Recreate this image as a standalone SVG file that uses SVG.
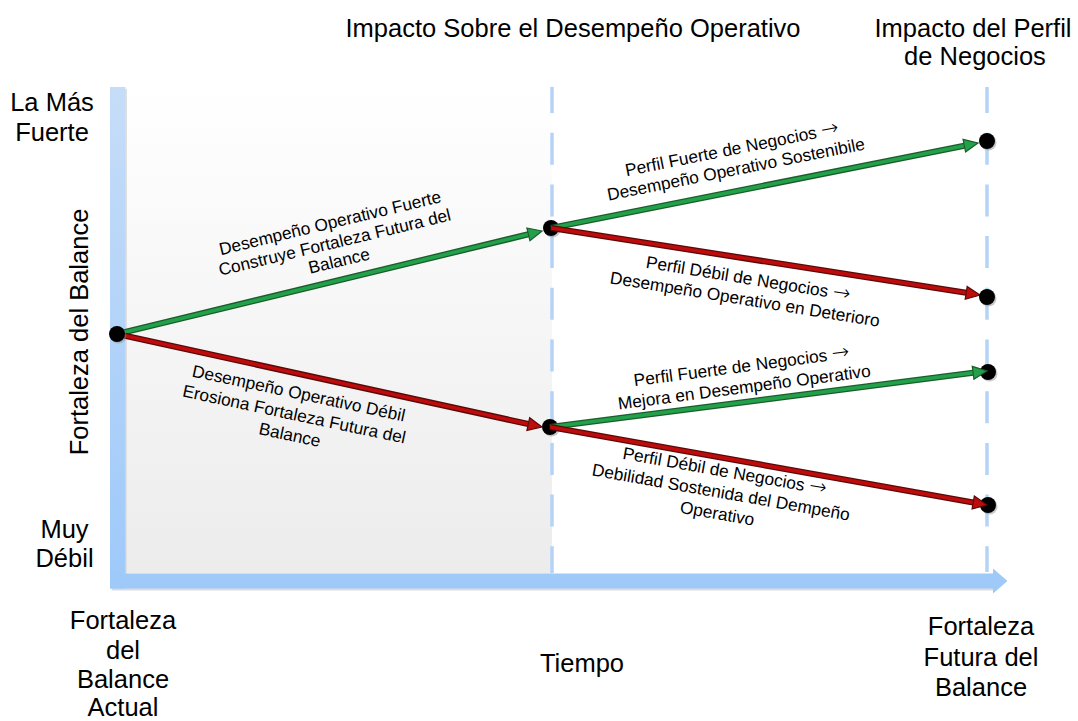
<svg xmlns="http://www.w3.org/2000/svg" width="1078" height="721" viewBox="0 0 1078 721">
<style>
.t{font-family:"Liberation Sans",Arial,sans-serif;font-size:25.5px;fill:#000}
.m{text-anchor:middle}
.s{font-family:"Liberation Sans",Arial,sans-serif;font-size:17.3px;fill:#000;text-anchor:middle}
.ar{font-family:"DejaVu Sans",sans-serif;font-size:21px;font-weight:200}
.dash{stroke:#b5d3f6;stroke-width:3.5;stroke-dasharray:32 19.7;fill:none}
.o{fill:none;stroke-width:6.2}
.i{fill:none;stroke-width:3.6}
.g .o{stroke:#1b5c2c}
.g .i{stroke:#22a14a}
.r .o{stroke:#5a0909}
.r .i{stroke:#be0c0c}
.node{fill:#000}
.sh{fill:#8a8a8a;opacity:.45}
</style>
<defs>
<linearGradient id="panel" x1="0" y1="0" x2="0" y2="1">
<stop offset="0" stop-color="#ffffff"/>
<stop offset="1" stop-color="#ececec"/>
</linearGradient>
<linearGradient id="vbar" x1="0" y1="0" x2="0" y2="1">
<stop offset="0" stop-color="#c6ddf8"/>
<stop offset="1" stop-color="#9ec9fa"/>
</linearGradient>
<marker id="mg" markerUnits="userSpaceOnUse" viewBox="-2 -9 20 18" markerWidth="20" markerHeight="18" refX="0" refY="0" orient="auto" overflow="visible">
<path d="M0,-6.5 L14,0 L0,6.5 Z" fill="#22a14a" stroke="#1b5c2c" stroke-width="1.2" stroke-linejoin="miter"/>
</marker>
<marker id="mr" markerUnits="userSpaceOnUse" viewBox="-2 -9 20 18" markerWidth="20" markerHeight="18" refX="0" refY="0" orient="auto" overflow="visible">
<path d="M0,-6.5 L14,0 L0,6.5 Z" fill="#be0c0c" stroke="#5a0909" stroke-width="1.2" stroke-linejoin="miter"/>
</marker>
</defs>

<rect width="1078" height="721" fill="#ffffff"/>

<g id="axes">
<rect x="125.5" y="87" width="426.5" height="486.5" fill="url(#panel)"/>
<rect x="112" y="89" width="15" height="501" fill="#e0e0e0"/>
<rect x="112" y="575.5" width="883" height="15" fill="#dcdcdc"/>
<rect x="110" y="87" width="15.5" height="501.5" fill="url(#vbar)"/>
<rect x="110" y="573.5" width="883" height="15" fill="#9fc9f9"/>
<path d="M993,568.5 L1007.5,581 L993,593.5 Z" fill="#9fc9f9"/>
<line class="dash" x1="552" y1="87" x2="552" y2="573" stroke-dashoffset="6"/>
<line class="dash" x1="987" y1="87" x2="987" y2="572" stroke-dashoffset="6"/>
</g>

<g id="labels">
<text class="t m" x="573" y="37">Impacto Sobre el Desempeño Operativo</text>
<text class="t m" x="973" y="37">Impacto del Perfil</text>
<text class="t m" x="975" y="65">de Negocios</text>
<text class="t m" x="52" y="111">La Más</text>
<text class="t m" x="52" y="141">Fuerte</text>
<text class="t m" x="64.5" y="538">Muy</text>
<text class="t m" x="64.5" y="567">Débil</text>
<text class="t m" transform="translate(88,332) rotate(-90)">Fortaleza del Balance</text>
<text class="t m" x="123" y="629">Fortaleza</text>
<text class="t m" x="123" y="659">del</text>
<text class="t m" x="123" y="688">Balance</text>
<text class="t m" x="123" y="716">Actual</text>
<text class="t m" x="582" y="672">Tiempo</text>
<text class="t m" x="981" y="635">Fortaleza</text>
<text class="t m" x="981" y="666">Futura del</text>
<text class="t m" x="981" y="696">Balance</text>
</g>

<g id="node-B"><circle class="sh" cx="552.5" cy="229.5" r="8"/><circle class="node" cx="551" cy="228" r="8"/></g>
<g id="node-C"><circle class="sh" cx="551.5" cy="428.5" r="8"/><circle class="node" cx="550" cy="427" r="8"/></g>
<g id="node-F"><circle class="sh" cx="989.5" cy="373.5" r="8"/><circle class="node" cx="988" cy="372" r="8"/></g>
<g id="node-G"><circle class="sh" cx="989.5" cy="506.5" r="8"/><circle class="node" cx="988" cy="505" r="8"/></g>

<g id="connectors">
<g id="edge-A-B" class="g">
<line class="o" x1="117" y1="334" x2="528.4" y2="234.3"/>
<line class="i" x1="117" y1="334" x2="528.4" y2="234.3" marker-end="url(#mg)"/>
<g transform="translate(336,248) rotate(-13.5)">
<text class="s" x="0" y="-20">Desempeño Operativo Fuerte</text>
<text class="s" x="0" y="0">Construye Fortaleza Futura del</text>
<text class="s" x="0" y="19">Balance</text>
</g>
</g>
<g id="edge-A-C" class="r">
<line class="o" x1="117" y1="334" x2="528.3" y2="424"/>
<line class="i" x1="117" y1="334" x2="528.3" y2="424" marker-end="url(#mr)"/>
<g transform="translate(293,420) rotate(12)">
<text class="s" x="0" y="-21.5">Desempeño Operativo Débil</text>
<text class="s" x="0" y="0">Erosiona Fortaleza Futura del</text>
<text class="s" x="0" y="21">Balance</text>
</g>
</g>
<g id="edge-B-D" class="g">
<line class="o" x1="551" y1="228" x2="964.3" y2="145.7"/>
<line class="i" x1="551" y1="228" x2="964.3" y2="145.7" marker-end="url(#mg)"/>
<g transform="translate(737,175) rotate(-11.3)">
<text class="s" x="0" y="-20.5">Perfil Fuerte de Negocios <tspan class="ar">→</tspan></text>
<text class="s" x="0" y="0">Desempeño Operativo Sostenibile</text>
</g>
</g>
<g id="edge-B-E" class="r">
<line class="o" x1="551" y1="228" x2="966.2" y2="292.8"/>
<line class="i" x1="551" y1="228" x2="966.2" y2="292.8" marker-end="url(#mr)"/>
<g transform="translate(744,305) rotate(9.2)">
<text class="s" x="0" y="-21">Perfil Débil de Negocios <tspan class="ar">→</tspan></text>
<text class="s" x="0" y="0">Desempeño Operativo en Deterioro</text>
</g>
</g>
<g id="edge-C-F" class="g">
<line class="o" x1="550" y1="427" x2="973.1" y2="372.8"/>
<line class="i" x1="550" y1="427" x2="973.1" y2="372.8" marker-end="url(#mg)"/>
<g transform="translate(745,393) rotate(-7.5)">
<text class="s" x="0" y="-21">Perfil Fuerte de Negocios <tspan class="ar">→</tspan></text>
<text class="s" x="0" y="0">Mejora en Desempeño Operativo</text>
</g>
</g>
<g id="edge-C-G" class="r">
<line class="o" x1="550" y1="427" x2="973.2" y2="502.5"/>
<line class="i" x1="550" y1="427" x2="973.2" y2="502.5" marker-end="url(#mr)"/>
<g transform="translate(720,498) rotate(10)">
<text class="s" x="0" y="-21.5">Perfil Débil de Negocios <tspan class="ar">→</tspan></text>
<text class="s" x="0" y="0">Debilidad Sostenida del Dempeño</text>
<text class="s" x="0" y="21.5">Operativo</text>
</g>
</g>
</g>

<g id="node-A"><circle class="sh" cx="118.5" cy="335.5" r="8"/><circle class="node" cx="117" cy="334" r="8"/></g>
<g id="node-D"><circle class="sh" cx="988.5" cy="142.5" r="8"/><circle class="node" cx="987" cy="141" r="8"/></g>
<g id="node-E"><circle class="sh" cx="988.5" cy="298.5" r="8"/><circle class="node" cx="987" cy="297" r="8"/></g>
</svg>
